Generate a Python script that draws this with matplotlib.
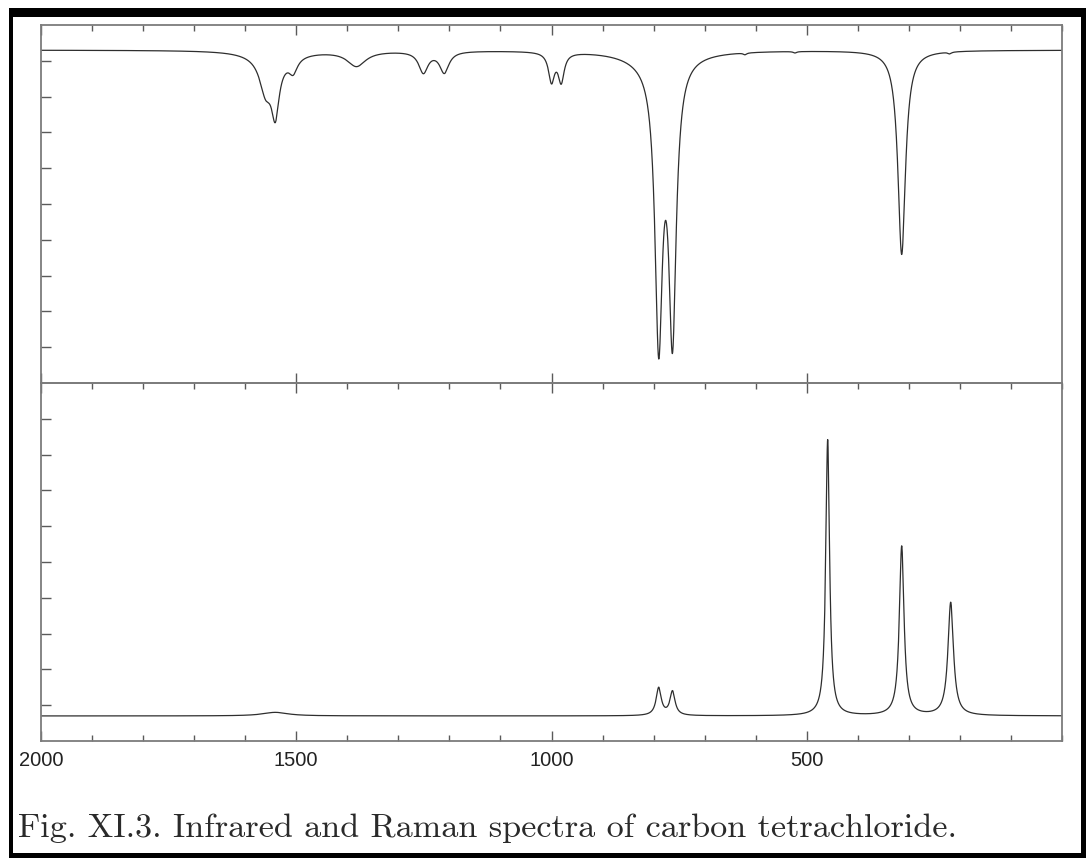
import numpy as np
import matplotlib
matplotlib.use("Agg")
import matplotlib.pyplot as plt
from matplotlib.patches import Rectangle
from matplotlib.ticker import MultipleLocator

# wavenumber axis (cm^-1), drawn right to left
WN_MAX = 2000
WN_MIN = 0
WN_LABELS = [2000, 1500, 1000, 500]

# infrared band list: centre, depth below the baseline, half width
IR_BASELINE = 9.30
IR_CENTERS = [1560, 1545, 1541, 1506, 1382, 1251, 1210, 1000, 981, 800, 790, 763, 621, 523, 314, 220]
IR_DEPTHS = [0.89, 0.25, 1.42, 0.40, 0.42, 0.59, 0.59, 0.80, 0.80, 0.25, 7.65, 7.55, 0.05, 0.04, 5.70, 0.05]
IR_WIDTHS = [14, 45, 9, 10, 22, 11, 11, 7, 7, 60, 8.8, 8.8, 4, 4, 9, 4]

# raman band list: centre, height above the baseline, half width
RAMAN_BASELINE = 0.70
RAMAN_CENTERS = [1541, 790, 763, 459, 314, 218]
RAMAN_HEIGHTS = [0.10, 0.77, 0.67, 7.71, 4.73, 3.16]
RAMAN_WIDTHS = [30, 6, 6, 4.5, 5.5, 6.5]

CAPTION = "Fig. XI.3. Infrared and Raman spectra of carbon tetrachloride."

LINE_COLOR = "#2e2e2e"
AXIS_COLOR = "#7c7c7c"


def lorentz_sum(x, centers, amps, widths):
    y = np.zeros_like(x)
    for c, a, w in zip(centers, amps, widths):
        y += a * w**2 / ((x - c) ** 2 + w**2)
    return y


def style_axes(ax):
    ax.set_xlim(WN_MAX, WN_MIN)
    ax.set_ylim(0, 10)
    for sp in ax.spines.values():
        sp.set_color(AXIS_COLOR)
        sp.set_linewidth(1.3)
    ax.set_yticks(range(1, 10))
    ax.tick_params(axis="y", which="major", direction="in", left=True, right=False,
                   length=7.5, width=1.0, color="#5a5a5a", labelleft=False)
    ax.set_xticks(WN_LABELS)
    ax.xaxis.set_minor_locator(MultipleLocator(100))


wn = np.linspace(WN_MIN, WN_MAX, 16001)
ir = IR_BASELINE - lorentz_sum(wn, IR_CENTERS, IR_DEPTHS, IR_WIDTHS)
raman = RAMAN_BASELINE + lorentz_sum(wn, RAMAN_CENTERS, RAMAN_HEIGHTS, RAMAN_WIDTHS)

W, H = 1086, 858
fig = plt.figure(figsize=(W / 100, H / 100), dpi=100)
fig.patch.set_facecolor("white")

# black scan frame round the page
fig.add_artist(Rectangle((9 / W, 0), 1 - 9 / W, 1 - 8 / H, transform=fig.transFigure,
                         facecolor="black", edgecolor="none", zorder=0))
fig.add_artist(Rectangle((13 / W, 5 / H), (1081 - 13) / W, (853 - 17) / H,
                         transform=fig.transFigure, facecolor="white",
                         edgecolor="none", zorder=0))

left, right = 41 / W, 1062 / W
mid = 1 - 383 / H
ax1 = fig.add_axes([left, mid, right - left, (1 - 25 / H) - mid])
ax2 = fig.add_axes([left, 1 - 741 / H, right - left, mid - (1 - 741 / H)])
for ax in (ax1, ax2):
    ax.set_facecolor("none")

# infrared (top)
ax1.plot(wn, ir, color=LINE_COLOR, lw=0.9)
style_axes(ax1)
ax1.tick_params(axis="x", which="major", direction="in", top=True, bottom=True,
                length=7.5, width=1.0, color="#5a5a5a", labelbottom=False)
ax1.tick_params(axis="x", which="minor", direction="in", top=True, bottom=False,
                length=4.5, width=1.0, color="#5a5a5a")

# raman (bottom)
ax2.plot(wn, raman, color=LINE_COLOR, lw=0.9)
style_axes(ax2)
ax2.set_xticklabels([str(v) for v in WN_LABELS])
ax2.tick_params(axis="x", which="major", direction="in", top=True, bottom=True,
                length=7.5, width=1.0, color="#5a5a5a", pad=7,
                labelsize=14.5, labelcolor="#222222")
ax2.tick_params(axis="x", which="minor", direction="in", top=True, bottom=True,
                length=4.5, width=1.0, color="#5a5a5a")
for lab in ax2.get_xticklabels():
    lab.set_fontfamily("Liberation Sans")

fig.text(18 / W, 1 - 837 / H, CAPTION, family="cmr10", size=24.6,
         color="#2a2a2a", ha="left", va="baseline")

fig.savefig("out.png", dpi=100)
